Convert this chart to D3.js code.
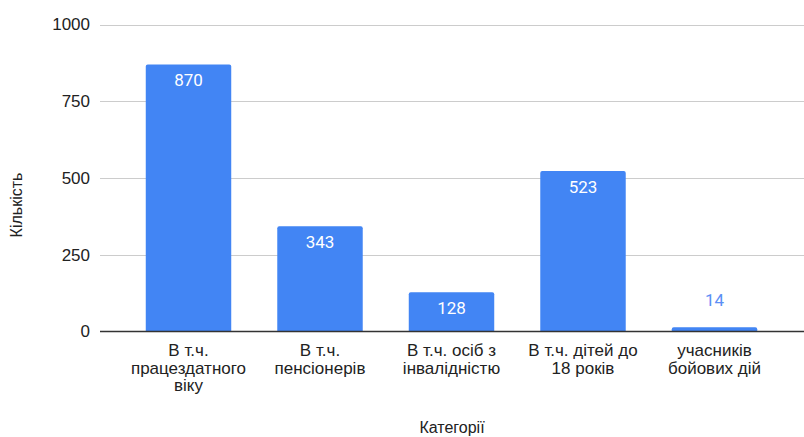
<!DOCTYPE html>
<html>
<head>
<meta charset="utf-8">
<script src="https://cdn.jsdelivr.net/npm/d3@7"></script>
<style>
  body { margin: 0; background: #fff; }
  text { font-family: "Liberation Sans", Arial, sans-serif; }
</style>
</head>
<body>
<div id="chart"></div>
<script>
var categories = [
  ["В т.ч.", "працездатного", "віку"],
  ["В т.ч.", "пенсіонерів"],
  ["В т.ч. осіб з", "інвалідністю"],
  ["В т.ч. дітей до", "18 років"],
  ["учасників", "бойових дій"]
];
var values = [870, 343, 128, 523, 14];
var yTicks = [0, 250, 500, 750, 1000];

var svgWidth = 804;
var svgHeight = 437;

var svg = d3.select("#chart")
  .append("svg")
  .attr("width", svgWidth)
  .attr("height", svgHeight);

// y scale: 0 at the baseline, 1000 at the top gridline
var y = d3.scaleLinear()
  .domain([0, 1000])
  .range([331.5, 24.5]);

var x = d3.scaleBand()
  .domain(d3.range(values.length))
  .range([122.75, 780.25])
  .paddingInner(0.35)
  .paddingOuter(0.175);

// gridlines
svg.append("g")
  .selectAll("line")
  .data(yTicks.filter(d => d > 0))
  .enter()
  .append("line")
  .attr("x1", 100)
  .attr("x2", svgWidth)
  .attr("y1", d => Math.round(y(d)) + 0.5)
  .attr("y2", d => Math.round(y(d)) + 0.5)
  .attr("stroke", "#cccccc")
  .attr("stroke-width", 1);

// y tick labels
svg.append("g")
  .selectAll("text")
  .data(yTicks)
  .enter()
  .append("text")
  .attr("x", 90)
  .attr("y", d => y(d))
  .attr("dy", "0.35em")
  .attr("text-anchor", "end")
  .style("font-size", "17px")
  .attr("fill", "#222")
  .text(d => d);

// bars with slightly rounded top corners
svg.append("g")
  .selectAll("path")
  .data(values)
  .enter()
  .append("path")
  .attr("fill", "#4285f4")
  .attr("d", (d, i) => {
    var x0 = x(i), x1 = x(i) + x.bandwidth();
    var y0 = y(0), y1 = y(d);
    var r = Math.min(2, (y0 - y1) / 2);
    return `M${x0},${y0} L${x0},${y1 + r} Q${x0},${y1} ${x0 + r},${y1} L${x1 - r},${y1} Q${x1},${y1} ${x1},${y1 + r} L${x1},${y0} Z`;
  });

// baseline
svg.append("line")
  .attr("x1", 100)
  .attr("x2", svgWidth)
  .attr("y1", y(0))
  .attr("y2", y(0))
  .attr("stroke", "#333")
  .attr("stroke-width", 1.5);

// data labels: inside the bar if tall enough, otherwise above it
svg.append("g")
  .selectAll("text")
  .data(values)
  .enter()
  .append("text")
  .attr("x", (d, i) => x(i) + x.bandwidth() / 2)
  .attr("y", d => (y(0) - y(d) > 30) ? y(d) + 16 : y(d) - 27)
  .attr("dy", "0.35em")
  .attr("text-anchor", "middle")
  .style("font-family", "Roboto, sans-serif")
  .style("font-size", "17px")
  .attr("fill", d => (y(0) - y(d) > 30) ? "#ffffff" : "#5b8ff5")
  .text(d => d);

// category labels (multi-line)
var catText = svg.append("g")
  .selectAll("text")
  .data(categories)
  .enter()
  .append("text")
  .attr("x", (d, i) => x(i) + x.bandwidth() / 2)
  .attr("y", 356)
  .attr("text-anchor", "middle")
  .style("font-size", "17px")
  .attr("fill", "#222");

catText.selectAll("tspan")
  .data(d => d)
  .enter()
  .append("tspan")
  .attr("x", function() { return this.parentNode.getAttribute("x"); })
  .attr("dy", (d, i) => i === 0 ? 0 : 17.5)
  .text(d => d);

// axis titles
svg.append("text")
  .attr("x", 452)
  .attr("y", 433)
  .attr("text-anchor", "middle")
  .style("font-size", "16px")
  .attr("fill", "#222")
  .text("Категорії");

svg.append("text")
  .attr("transform", "translate(22,205) rotate(-90)")
  .attr("text-anchor", "middle")
  .style("font-size", "16px")
  .attr("fill", "#222")
  .text("Кількість");
</script>
</body>
</html>
